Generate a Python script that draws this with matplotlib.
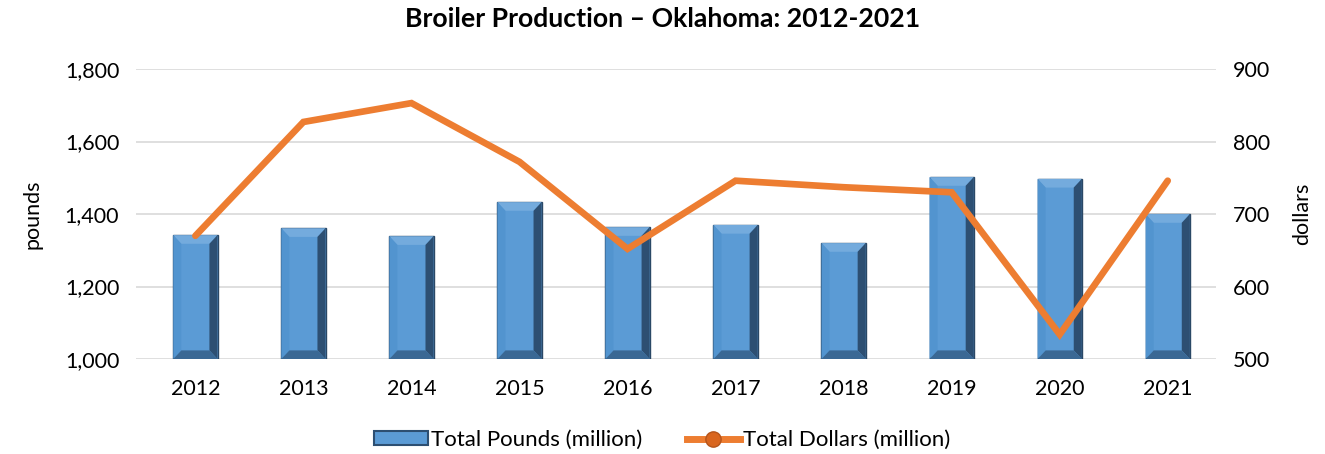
import matplotlib
matplotlib.use("Agg")
import matplotlib.pyplot as plt
from matplotlib.lines import Line2D
from matplotlib.patches import Patch, Polygon
from matplotlib.ticker import FuncFormatter

years = ["2012", "2013", "2014", "2015", "2016", "2017", "2018", "2019", "2020", "2021"]
pounds = [1342, 1361, 1339, 1433, 1364, 1370, 1320, 1502, 1497, 1400]
dollars = [670, 827, 853, 772, 652, 746, 737, 730, 534, 746]

plt.rcParams['font.family'] = ['Lato', 'DejaVu Sans']

fig = plt.figure(figsize=(13.25, 4.54), dpi=100)
ax = fig.add_axes([0.1026, 0.209, 0.8154, 0.639])
ax2 = ax.twinx()

x = list(range(len(years)))
w = 0.41
base = 1000
bx = 0.075   # bevel width in x units
by = 24      # bevel height in data units
ax.bar(x, [p - base for p in pounds], bottom=base, width=w, color='#5B9BD5',
       edgecolor='#2A4866', linewidth=1.0, zorder=2)
for xi, p in zip(x, pounds):
    l, r = xi - w / 2, xi + w / 2
    il, ir = l + bx, r - bx
    ib, it = base + by, p - by
    faces = [
        ([(l, p), (r, p), (ir, it), (il, it)], '#74ABDD'),      # top
        ([(l, base), (l, p), (il, it), (il, ib)], '#5294CF'),   # left
        ([(r, base), (r, p), (ir, it), (ir, ib)], '#2D4F72'),   # right
        ([(l, base), (r, base), (ir, ib), (il, ib)], '#3A6894'),  # bottom
    ]
    for pts, c in faces:
        ax.add_patch(Polygon(pts, closed=True, facecolor=c, edgecolor='none', zorder=2.5))
ax.set_ylim(1000, 1800)
ax.set_yticks([1000, 1200, 1400, 1600, 1800])
ax.yaxis.set_major_formatter(FuncFormatter(lambda v, p: f"{int(v):,}"))
ax.set_xlim(-0.55, 9.45)
ax.set_xticks(x)
ax.set_xticklabels(years)
ax.grid(axis='y', color='#D9D9D9', linewidth=1.2, zorder=0)
ax.set_axisbelow(True)

ax2.plot(x, dollars, color='#ED7D31', linewidth=4.8, solid_capstyle='round', solid_joinstyle='miter', zorder=3)
ax2.set_ylim(500, 900)
ax2.set_yticks([500, 600, 700, 800, 900])

for a in (ax, ax2):
    for s in a.spines.values():
        s.set_visible(False)
    a.tick_params(length=0, labelsize=15.5, colors='#000000')
ax.tick_params(axis='x', pad=14)
ax.tick_params(axis='y', pad=12)
ax2.tick_params(axis='y', pad=12)

ax.set_ylabel("pounds", fontsize=15.5, labelpad=16)
ax2.set_ylabel("dollars", fontsize=15.5, labelpad=16)

fig.suptitle("Broiler Production \u2013 Oklahoma: 2012-2021", fontsize=19.2, fontweight='bold', y=0.985)

handles = [Patch(facecolor='#5B9BD5', edgecolor='#2D4F72', linewidth=1.5),
           Line2D([0], [0], color='#ED7D31', linewidth=5, marker='o', markersize=11,
                  markerfacecolor='#D9661F', markeredgecolor='#B5541A')]
fig.legend(handles, ["Total Pounds (million)", "Total Dollars (million)"],
           loc='lower center', bbox_to_anchor=(0.5, -0.035), ncol=2, frameon=False,
           fontsize=16, handlelength=2.4, handleheight=0.55, handletextpad=0.15, columnspacing=2.0)

fig.savefig("out.png", dpi=100)
